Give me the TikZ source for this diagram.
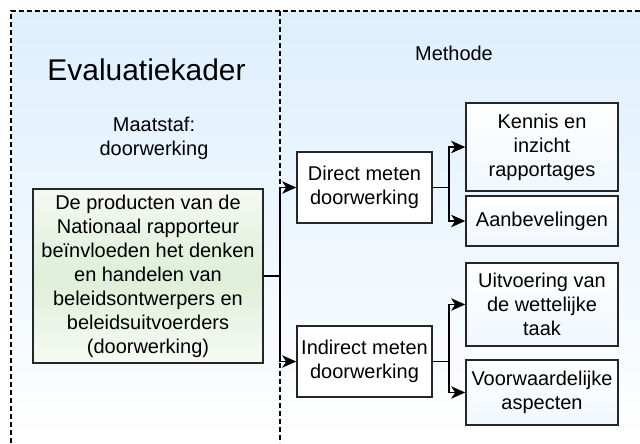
\documentclass[tikz,border=0pt]{standalone}
\usepackage{fontspec}
\setmainfont{Liberation Sans}
\usetikzlibrary{arrows.meta}

\definecolor{paneltop}{RGB}{221,239,253}
\definecolor{greentop}{RGB}{245,249,243}
\definecolor{greenmid}{RGB}{222,238,215}
\definecolor{greenbot}{RGB}{246,251,244}
\definecolor{boxbot}{RGB}{240,247,254}

\newlength\pxl
\setlength\pxl{0.025cm}

\tikzset{
  txt/.style={font=\fontsize{14.2}{17.1}\selectfont, align=center},
  box/.style={txt, draw=black!85, line width=1.5\pxl, inner sep=0pt},
  leaf/.style={box, top color=white, bottom color=boxbot, minimum width=152\pxl},
  meet/.style={box, fill=white, minimum width=135\pxl, minimum height=71\pxl},
  conn/.style={line width=1.5\pxl, -{Stealth[length=10pt,width=8.8pt,inset=2.8pt]}},
  frame/.style={line width=1.4\pxl, dash pattern=on 5\pxl off 3\pxl},
}

\begin{document}
\begin{tikzpicture}[x=\pxl,y=-\pxl]
  \useasboundingbox (0,0) rectangle (640,443);
  \shade[top color=paneltop,bottom color=white] (11,11) rectangle (280,443);
  \shade[top color=paneltop,bottom color=white] (280,11) rectangle (640,443);
  \draw[frame] (11,443) -- (11,11) -- (640,11);
  \draw[frame] (280,11) -- (280,443);

  \node[txt, font=\fontsize{21.3}{25}\selectfont] (title) at (146.5,70) {Evaluatiekader};
  \node[txt] (maatstaf) at (154,138) {Maatstaf:\\doorwerking};
  \node[txt] (methode) at (454,53) {Methode};

  \node[box, top color=greentop, bottom color=greenbot, middle color=greenmid,
        minimum width=230\pxl, minimum height=174\pxl] (effect) at (148,276)
    {De producten van de\\Nationaal rapporteur\\beïnvloeden het denken\\en handelen van\\beleidsontwerpers en\\beleidsuitvoerders\\(doorwerking)};

  \node[meet] (direct) at (364.5,187.5) {Direct meten\\doorwerking};
  \node[meet] (indirect) at (364.5,361.5) {Indirect meten\\doorwerking};

  \node[leaf, minimum height=88\pxl] (kennis) at (542,147) {Kennis en\\inzicht\\rapportages};
  \node[leaf, minimum height=50\pxl] (aanbev) at (542,221) {Aanbevelingen};
  \node[leaf, minimum height=83\pxl] (uitvoer) at (542,304.5) {Uitvoering van\\de wettelijke\\taak};
  \node[leaf, minimum height=65\pxl] (voorw) at (542,392.5) {Voorwaardelijke\\aspecten};

  \coordinate (split) at (280,276);
  \coordinate (dsplit) at (449,187.5);
  \coordinate (isplit) at (449,361.5);

  \draw[conn] (effect.east) -- (split) |- (direct.west);
  \draw[conn] (split) |- (indirect.west);
  \foreach \from/\via/\upper/\lower in {direct/dsplit/kennis/aanbev, indirect/isplit/uitvoer/voorw} {
    \draw[conn] (\from.east) -- (\via) |- (\upper.west);
    \draw[conn] (\via) |- (\lower.west);
  }
\end{tikzpicture}
\end{document}
